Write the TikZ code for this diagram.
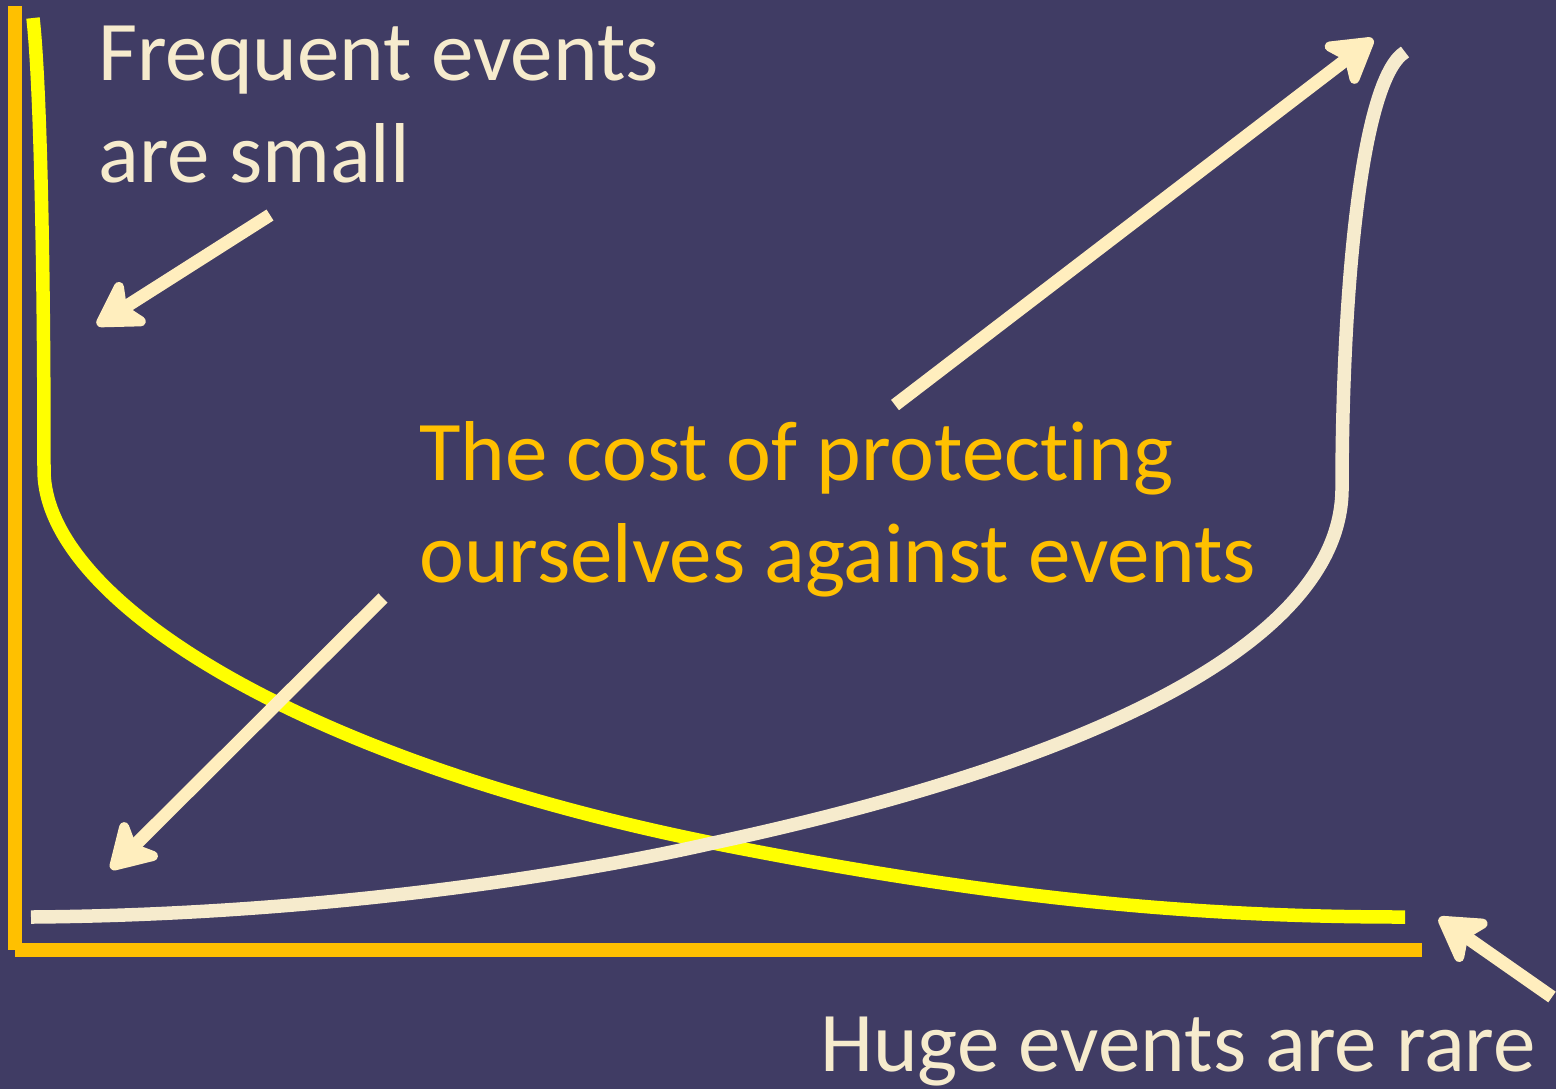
\documentclass[tikz,border=0pt]{standalone}
\usepackage{fontspec}
\setmainfont[Ligatures=CommonOff]{Carlito}
\usetikzlibrary{arrows.meta}
\definecolor{bgpurple}{RGB}{64,60,100}
\definecolor{axisorange}{RGB}{255,192,0}
\definecolor{curveyellow}{RGB}{255,255,0}
\definecolor{curvecream}{RGB}{246,235,205}
\definecolor{arrowcream}{RGB}{255,238,190}
\definecolor{textcream}{RGB}{246,235,205}
\tikzset{
  axisline/.style={draw=axisorange, line width=7pt, line cap=butt},
  curveline/.style={line width=6.75pt, line cap=butt},
  pointer/.style={draw=arrowcream, line width=6.5pt, line cap=butt,
    -{Stealth[length=27pt, width=32pt, inset=7pt, round]}},
  label/.style={inner sep=0pt, anchor=base west, align=left,
    font=\fontsize{42.5}{51}\selectfont}
}
\begin{document}
\begin{tikzpicture}[x=0.5pt, y=-0.5pt]
  % canvas
  \fill[bgpurple] (0,0) rectangle (1556,1089);
  \useasboundingbox (0,0) rectangle (1556,1089);

  % axes
  \coordinate (ytop) at (15,6);
  \coordinate (origin) at (15,950);
  \coordinate (xend) at (1422,950);
  \draw[axisline] (ytop) -- (origin);
  \draw[axisline] (origin) -- (xend);

  % frequency of events: steep drop, then a long flat tail
  \coordinate (ys) at (33,18);
  \coordinate (yk) at (44,470);
  \coordinate (yx) at (713,843);
  \coordinate (ye) at (1405,917);
  \draw[curveline, curveyellow] (ys) .. controls (40,80) and (44,250) .. (yk)
    .. controls (44,600) and (300,760) .. (yx)
    .. controls (1000,900) and (1200,917) .. (ye);

  % cost of protection: flat start, then a steep rise
  \coordinate (cs) at (31,917);
  \coordinate (ck) at (1342,490);
  \coordinate (ce) at (1405,52);
  \draw[curveline, curvecream] (cs) .. controls (300,915) and (550,880) .. (yx)
    .. controls (1100,760) and (1340,640) .. (ck)
    .. controls (1342,300) and (1360,80) .. (ce);

  % labels (anchored on the baseline of their last line)
  \node[label, text=textcream] (freq) at (98,182) {Frequent events\\are small};
  \node[label, text=axisorange] (cost) at (419,582) {The cost of protecting\\ourselves against events};
  \node[label, text=textcream] (huge) at (820,1071) {Huge events are rare};

  % pointers
  \coordinate (a1s) at (270,215);  \coordinate (a1e) at (97,325);
  \coordinate (a2s) at (895,405);  \coordinate (a2e) at (1373,39);
  \coordinate (a3s) at (383,598);  \coordinate (a3e) at (111,869);
  \coordinate (a4s) at (1552,997); \coordinate (a4e) at (1439,918);
  \draw[pointer] (a1s) -- (a1e);
  \draw[pointer] (a2s) -- (a2e);
  \draw[pointer] (a3s) -- (a3e);
  \draw[pointer] (a4s) -- (a4e);
\end{tikzpicture}
\end{document}
